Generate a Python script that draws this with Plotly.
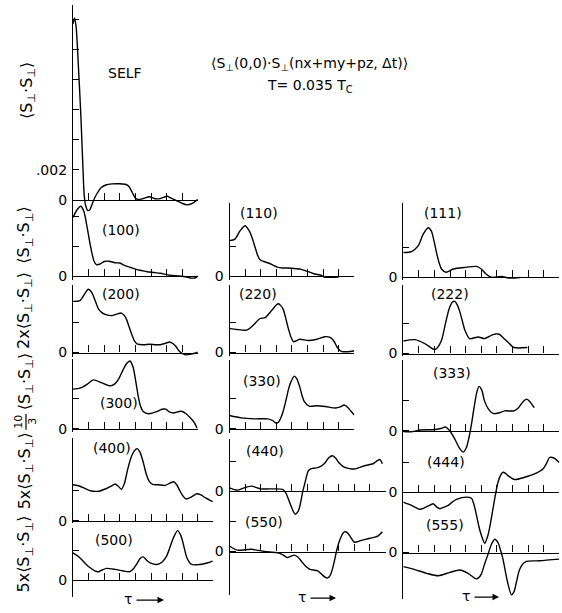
import plotly.graph_objects as go

W, H = 562, 613
FONT = "DejaVu Sans"

# ---------------------------------------------------------------------------
# Correlation curves <S_perp(0,0) . S_perp(r, dt)>, tau in tick units,
# values in units of 1e-3 (the row multipliers 2x, 10/3, 5x already applied)
# ---------------------------------------------------------------------------
self_tau = [0, 0.1, 0.2, 0.35, 0.5, 0.62, 0.72, 0.82, 0.95, 1.08, 1.2, 1.35, 1.55, 1.8, 2.1, 2.5,
            3.0, 3.4, 3.6, 3.8, 4.0, 4.2, 4.5, 4.9, 5.2, 5.5, 5.8, 6.05, 6.3, 6.6, 7.0, 7.3, 7.65, 8.0]
self_val = [11.7, 12.1, 11.5, 8.8, 5.7, 2.6, 0.3, -0.4, -0.7, -0.65, -0.35, 0.05, 0.45, 0.82, 1.0, 1.07,
            1.08, 1.03, 0.88, 0.5, 0.12, 0.03, 0.1, 0.22, 0.1, 0.08, 0.18, 0.25, 0.12, -0.02, -0.22, -0.32, -0.22, 0.05]

c100_tau = [0, 0.25, 0.5, 0.7, 0.88, 1.05, 1.2, 1.35, 1.5, 1.7, 2.0, 2.3, 2.7, 3.0, 3.3, 3.65, 4.0, 4.4,
            4.75, 5.2, 5.6, 6.2, 6.8, 7.3, 7.6, 7.85, 8.0]
c100_val = [3.9, 4.4, 4.65, 4.3, 3.4, 2.4, 1.6, 1.0, 0.78, 0.8, 0.98, 1.0, 0.9, 0.88, 0.72, 0.6, 0.47, 0.38,
            0.3, 0.25, 0.2, 0.07, 0.02, -0.05, -0.12, -0.1, 0.02]

c200_tau = [0, 0.45, 0.75, 0.98, 1.2, 1.4, 1.63, 1.85, 2.1, 2.5, 2.8, 3.1, 3.3, 3.45, 3.6, 3.75, 3.95, 4.1,
            4.5, 4.9, 5.3, 5.6, 5.95, 6.2, 6.4, 6.6, 6.85, 7.2, 7.6, 8.0]
c200_val = [3.4, 3.45, 3.9, 4.2, 4.0, 3.5, 2.9, 2.65, 2.52, 2.45, 2.55, 2.62, 2.45, 2.15, 1.7, 1.25, 0.75, 0.58,
            0.52, 0.55, 0.52, 0.52, 0.62, 0.7, 0.6, 0.4, 0.05, -0.15, -0.1, 0.02]

c300_tau = [0, 0.45, 0.9, 1.3, 1.85, 2.4, 2.7, 2.95, 3.2, 3.45, 3.65, 3.85, 4.0, 4.15, 4.3, 4.5, 4.85, 5.4,
            5.7, 5.95, 6.2, 6.45, 6.8, 7.0, 7.25, 7.5, 7.75, 7.95]
c300_val = [2.63, 2.7, 2.95, 3.25, 3.05, 2.85, 3.0, 3.35, 3.9, 4.35, 4.5, 4.1, 3.3, 2.35, 1.6, 1.15, 1.0, 1.15,
            1.3, 1.3, 1.1, 1.05, 1.15, 1.15, 1.0, 0.75, 0.45, 0.05]

c400_tau = [0, 0.45, 1.1, 1.65, 2.15, 2.45, 2.7, 2.9, 3.1, 3.3, 3.5, 3.7, 3.9, 4.1, 4.3, 4.5, 4.7, 4.9, 5.1,
            5.45, 5.9, 6.2, 6.45, 6.65, 6.85, 7.05, 7.25, 7.6, 7.95, 8.2, 8.5, 8.95]
c400_val = [2.4, 2.3, 2.0, 1.97, 2.15, 2.3, 2.45, 2.3, 2.1, 2.5, 3.4, 4.15, 4.6, 4.8, 4.55, 3.9, 3.1, 2.6, 2.42,
            2.4, 2.35, 2.5, 2.6, 2.4, 2.0, 1.65, 1.45, 1.6, 1.8, 1.72, 1.52, 1.27]

c500_tau = [0, 0.3, 0.55, 0.85, 1.1, 1.4, 1.65, 1.9, 2.15, 2.7, 3.2, 3.65, 3.9, 4.1, 4.3, 4.5, 4.75, 4.95,
            5.35, 5.7, 6.0, 6.25, 6.45, 6.7, 6.9, 7.05, 7.3, 7.6, 8.15, 8.6, 8.95]
c500_val = [1.82, 1.62, 1.38, 1.05, 0.83, 0.62, 0.57, 0.7, 0.79, 0.72, 0.62, 0.57, 0.8, 1.1, 1.45, 1.55, 1.3, 1.16,
            1.05, 1.2, 1.6, 2.3, 2.85, 3.3, 3.0, 2.5, 1.5, 1.05, 1.05, 1.15, 1.27]

c110_tau = [0, 0.35, 0.68, 1.0, 1.3, 1.5, 1.65, 1.8, 1.96, 2.2, 2.5, 3.05, 3.4, 3.7, 4.3, 4.6, 4.85, 5.4,
            5.9, 6.05, 7.0]
c110_val = [2.37, 2.47, 3.03, 3.36, 2.95, 2.4, 1.9, 1.4, 1.1, 0.98, 0.88, 0.61, 0.55, 0.55, 0.5, 0.46, 0.38, 0.17,
            0.05, -0.05, -0.05]

c220_tau = [0, 0.47, 1.1, 1.35, 1.6, 1.96, 2.28, 2.71, 3.0, 3.13, 3.3, 3.45, 3.6, 3.77, 3.95, 4.1, 4.5, 5.05,
            5.6, 6.1, 6.45, 6.7, 6.87, 7.1, 7.2, 7.75, 8.0]
c220_val = [1.6, 1.53, 1.49, 1.65, 1.9, 2.26, 2.32, 2.8, 3.15, 3.24, 3.1, 2.85, 2.3, 1.6, 1.0, 0.72, 0.88, 0.8,
            0.88, 1.05, 1.0, 0.75, 0.4, 0.12, 0.07, 0.07, 0.12]

c330_tau = [0, 0.75, 1.6, 2.45, 2.75, 3.0, 3.15, 3.3, 3.45, 3.6, 3.8, 3.95, 4.15, 4.3, 4.5, 4.65, 4.8, 5.1,
            5.6, 6.15, 6.8, 7.1, 7.35, 7.55, 7.8, 8.0]
c330_val = [0.88, 0.72, 0.66, 0.66, 0.55, 0.37, 0.45, 0.75, 1.2, 1.8, 2.7, 3.15, 3.5, 3.35, 2.8, 2.2, 1.8, 1.5,
            1.53, 1.48, 1.38, 1.45, 1.58, 1.45, 1.15, 0.92]

c440_tau = [0, 0.5, 0.9, 1.4, 2.0, 2.6, 3.4, 3.6, 3.75, 3.95, 4.2, 4.4, 4.55, 4.7, 4.85, 5.05, 5.25, 5.5,
            5.85, 6.1, 6.35, 6.6, 6.8, 7.0, 7.35, 7.7, 8.0, 8.65, 9.2, 9.5, 9.65, 9.8]
c440_val = [0.22, 0.07, 0.2, 0.33, 0.15, 0.15, 0.12, -0.1, -0.45, -1.0, -1.53, -1.35, -0.8, 0.0, 0.6, 1.35, 1.5, 1.53,
            1.65, 1.85, 2.2, 2.35, 2.2, 1.9, 1.6, 1.5, 1.47, 1.69, 1.82, 2.05, 2.1, 1.82]

c550_tau = [0, 0.5, 1.4, 2.25, 3.0, 3.4, 3.7, 3.95, 4.15, 4.4, 4.65, 4.9, 5.15, 5.65, 5.9, 6.15, 6.3, 6.45,
            6.6, 6.75, 6.9, 7.1, 7.3, 7.45, 7.6, 7.8, 8.0, 8.45, 9.0, 9.5, 9.8]
c550_val = [0.37, 0.09, 0.15, 0.0, -0.07, -0.2, -0.4, -0.3, -0.24, -0.38, -0.7, -1.0, -1.18, -1.28, -1.5, -1.72, -1.75, -1.6,
            -1.15, -0.5, 0.2, 0.85, 1.25, 1.32, 1.2, 0.9, 0.62, 0.74, 0.88, 1.03, 1.32]

c111_tau = [0, 0.53, 0.95, 1.27, 1.6, 1.8, 1.95, 2.13, 2.3, 2.45, 2.75, 3.2, 3.95, 4.7, 5.0, 5.3, 5.65, 6.3,
            6.75, 7.5]
c111_val = [1.64, 1.71, 2.08, 2.85, 3.29, 3.07, 2.5, 1.64, 0.95, 0.55, 0.33, 0.55, 0.66, 0.72, 0.55, 0.22, 0.0, 0.05,
            -0.05, -0.02]

c222_tau = [0, 0.75, 1.38, 2.0, 2.2, 2.45, 2.6, 2.75, 2.95, 3.15, 3.3, 3.45, 3.6, 3.8, 3.95, 4.25, 4.8, 5.2,
            5.65, 5.9, 6.15, 6.45, 6.7, 7.1, 7.95]
c222_val = [0.83, 0.92, 0.66, 0.26, 0.4, 0.88, 1.5, 2.2, 3.0, 3.42, 3.46, 3.25, 2.85, 2.1, 1.54, 0.99, 1.1, 0.99,
            1.21, 1.3, 1.28, 1.0, 0.77, 0.4, 0.4]

c333_tau = [0, 0.5, 1.1, 1.9, 2.4, 2.7, 2.98, 3.3, 3.6, 3.85, 4.05, 4.2, 4.35, 4.5, 4.7, 4.85, 5.03, 5.2,
            5.42, 5.75, 6.1, 6.5, 7.1, 7.4, 7.65, 7.9, 8.1, 8.4]
c333_val = [-0.05, -0.07, 0.05, 0.07, 0.15, 0.25, 0.0, -0.55, -1.15, -1.42, -1.1, -0.5, 0.3, 1.3, 2.5, 2.95, 2.7, 2.0,
            1.5, 1.15, 1.18, 1.32, 1.32, 1.55, 1.9, 2.1, 1.95, 1.53]

c444_tau = [0, 0.53, 1.06, 1.35, 1.6, 1.92, 2.15, 2.35, 2.6, 2.88, 3.15, 3.41, 4.05, 4.37, 4.55, 4.69, 4.85,
            5.0, 5.22, 5.43, 5.6, 5.75, 5.9, 6.07, 6.25, 6.39, 6.55, 6.71, 7.14, 7.78, 8.41, 8.95, 9.2, 9.37,
            9.55, 9.69, 10.0]
c444_val = [-0.66, -0.88, -1.14, -1.05, -0.92, -0.77, -1.0, -1.1, -1.0, -0.88, -0.65, -0.48, -0.33, -0.4, -0.9, -1.53, -2.3,
            -2.85, -3.4, -2.85, -2.0, -1.1, -0.2, 0.66, 1.15, 1.32, 1.25, 1.1, 0.84, 0.99, 1.21, 1.54, 1.95, 2.3,
            2.3, 2.24, 1.97]

c555_tau = [0, 0.64, 1.5, 2.24, 2.98, 3.62, 4.15, 4.5, 4.69, 4.85, 5.0, 5.2, 5.43, 5.65, 5.86, 6.07, 6.25,
            6.39, 6.55, 6.71, 6.93, 7.1, 7.25, 7.4, 7.57, 7.88, 8.73, 10.0]
c555_val = [-0.94, -1.1, -1.38, -1.54, -1.32, -1.16, -1.38, -1.65, -1.75, -1.65, -1.43, -0.8, -0.11, 0.55, 0.88, 0.66, 0.1,
            -0.44, -1.3, -2.08, -2.81, -2.6, -1.97, -1.3, -0.88, -0.59, -0.55, -0.44]

# ---------------------------------------------------------------------------
# Panel geometry (pixels): left edge, number of tau ticks, zero line, top, bottom
# ---------------------------------------------------------------------------
PX_PER_UNIT = 15.2   # vertical pixels per 0.001
TAU_PX = 15.6        # horizontal pixels per tau tick

LEFT, MID, RIGHT = 73.0, 229.5, 403.3

panels = [
    # label, tau, values, x0, n, zero, top, bottom, labelled y ticks, unlabelled y ticks
    ("SELF",  self_tau, self_val, LEFT, 8, 202, 5, 215, {0: "0", 2: ".002"}, [4, 6, 8, 10, 12]),
    ("(100)", c100_tau, c100_val, LEFT, 8, 279, 205, 283, {0: "0"}, [2, 4]),
    ("(200)", c200_tau, c200_val, LEFT, 8, 356, 288, 361, {0: "0"}, [2]),
    ("(300)", c300_tau, c300_val, LEFT, 8, 433, 363, 436, {0: "0"}, [2]),
    ("(400)", c400_tau, c400_val, LEFT, 9, 526, 442, 528, {0: "0"}, [2]),
    ("(500)", c500_tau, c500_val, LEFT, 9, 586, 533, 603, {0: "0"}, [2]),
    ("(110)", c110_tau, c110_val, MID, 8, 279, 205, 283, {0: "0"}, [2]),
    ("(220)", c220_tau, c220_val, MID, 8, 356, 288, 360, {0: "0"}, [2]),
    ("(330)", c330_tau, c330_val, MID, 8, 433, 364, 437, {0: "0"}, [2]),
    ("(440)", c440_tau, c440_val, MID, 10, 496, 443, 522, {0: "0"}, [2]),
    ("(550)", c550_tau, c550_val, MID, 10, 557, 520, 601, {0: "0"}, [2]),
    ("(111)", c111_tau, c111_val, RIGHT, 10, 280, 205, 283, {0: "0"}, [2]),
    ("(222)", c222_tau, c222_val, RIGHT, 10, 357, 288, 360, {0: "0"}, [2]),
    ("(333)", c333_tau, c333_val, RIGHT, 10, 435, 364, 460, {0: "0"}, [2]),
    ("(444)", c444_tau, c444_val, RIGHT, 10, 497, 458, 553, {0: "0"}, [2]),
    ("(555)", c555_tau, c555_val, RIGHT, 10, 558, 540, 605, {0: "0"}, [2]),
]

# panel caption positions (pixel centres)
caption_pos = {
    "SELF": (125, 74), "(100)": (121, 232), "(200)": (121, 297), "(300)": (119, 407),
    "(400)": (112, 452), "(500)": (114, 545), "(110)": (259, 215), "(220)": (258, 297),
    "(330)": (262, 385), "(440)": (265, 455), "(550)": (264, 527), "(111)": (443, 215),
    "(222)": (450, 297), "(333)": (452, 377), "(444)": (446, 467), "(555)": (445, 530),
}


def fx(px):
    return px / W


def fy(py):
    return 1 - py / H


fig = go.Figure()
layout_axes = {}
annotations = []


def text(px, py, s, size=14, angle=0):
    annotations.append(dict(x=fx(px), y=fy(py), xref="paper", yref="paper", text=s,
                            xanchor="center", yanchor="middle",
                            showarrow=False, textangle=angle,
                            font=dict(family=FONT, size=size, color="black")))


for i, (label, tau, vals, x0, n, zero, top, bot, major, minor) in enumerate(panels, start=1):
    xs = "x" if i == 1 else f"x{i}"
    ys = "y" if i == 1 else f"y{i}"
    fig.add_trace(go.Scatter(
        x=tau, y=vals, mode="lines", xaxis=xs, yaxis=ys,
        line=dict(color="black", width=1.4, shape="spline", smoothing=0.7),
        showlegend=False, hoverinfo="skip",
    ))
    layout_axes["xaxis" if i == 1 else f"xaxis{i}"] = dict(
        domain=[fx(x0), fx(x0 + n * TAU_PX)], range=[0, n], anchor="free", position=fy(zero),
        showline=True, linecolor="black", linewidth=1.2,
        ticks="inside", ticklen=7, tickwidth=1.2, tickcolor="black",
        tickvals=list(range(1, n + 1)), showticklabels=False,
        showgrid=False, zeroline=False, fixedrange=True,
    )
    layout_axes["yaxis" if i == 1 else f"yaxis{i}"] = dict(
        domain=[fy(bot), fy(top)],
        range=[-(bot - zero) / PX_PER_UNIT, (zero - top) / PX_PER_UNIT],
        anchor=xs, showline=True, linecolor="black", linewidth=1.2,
        ticks="inside", ticklen=6, tickwidth=1.2, tickcolor="black",
        tickvals=list(major.keys()), ticktext=list(major.values()),
        tickfont=dict(family=FONT, size=14, color="black"),
        minor=dict(tickvals=minor, ticks="inside", ticklen=6, tickwidth=1.2,
                   tickcolor="black", showgrid=False),
        ticklabelstandoff=2, showgrid=False, zeroline=False, fixedrange=True,
    )
    cx, cy = caption_pos[label]
    text(cx, cy, label, 14)


SS = "⟨S<sub>⊥</sub>·S<sub>⊥</sub>⟩"

# heading
text(309, 65, "⟨S<sub>⊥</sub>(0,0)·S<sub>⊥</sub>(nx+my+pz, Δt)⟩", 14)
text(310, 87, "T= 0.035 T<sub>C</sub>", 14)

# row scale labels (rotated)
text(27, 92, SS, 16, -90)
text(25, 238, SS, 16, -90)
text(25, 314, "2x" + SS, 16, -90)
text(25, 386, SS, 16, -90)
text(19, 426, "10", 11, -90)
text(33, 426, "3", 11, -90)
text(25, 476, "5x" + SS, 16, -90)
text(25, 560, "5x" + SS, 16, -90)

# tau arrows under each column
for tx, ty, a0, a1 in [(128, 605, 135, 164), (302, 603, 309, 336), (466, 602, 473, 499)]:
    text(tx, ty, "τ", 14)
    annotations.append(dict(x=fx(a1), y=fy(ty + 1), xref="paper", yref="paper",
                            ax=-(a1 - a0), ay=0, axref="pixel", ayref="pixel",
                            text="", showarrow=True, arrowhead=2, arrowsize=1,
                            arrowwidth=1.3, arrowcolor="black"))

shapes = [
    # fraction bar of the 10/3 factor
    dict(type="line", xref="paper", yref="paper", x0=fx(26), x1=fx(26),
         y0=fy(418), y1=fy(434), line=dict(color="black", width=1.2)),
]

fig.update_layout(
    width=W, height=H, margin=dict(l=0, r=0, t=0, b=0),
    paper_bgcolor="white", plot_bgcolor="rgba(0,0,0,0)",
    annotations=annotations, shapes=shapes, showlegend=False,
    **layout_axes,
)

fig.write_html("out.html")
